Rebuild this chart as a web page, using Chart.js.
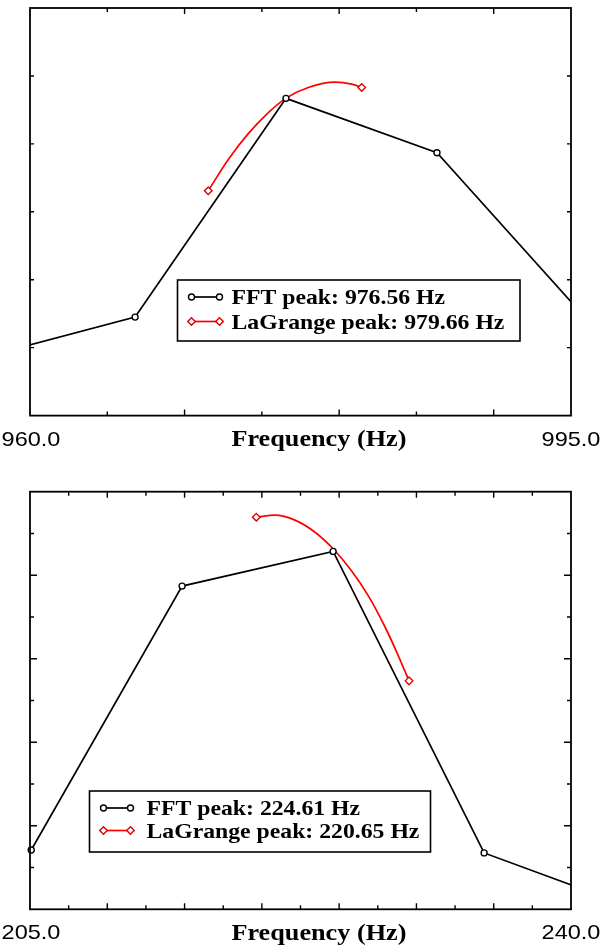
<!DOCTYPE html>
<html>
<head>
<meta charset="utf-8">
<script src="https://cdn.jsdelivr.net/npm/chart.js@4/dist/chart.umd.min.js"></script>
<style>
  body { margin: 0; background: #fff; }
  .box { position: absolute; left: 0; width: 608px; }
</style>
</head>
<body>
<div class="box" style="top:0;height:472px"><canvas id="peakHigh" width="608" height="472"></canvas></div>
<div class="box" style="top:472px;height:473px"><canvas id="peakLow" width="608" height="473"></canvas></div>
<script>
// ---- top plot: peak near 977 Hz
const fftFreqHigh = [957.03, 966.80, 976.56, 986.33, 996.09];
const fftAmpHigh = [0.86, 1.45, 4.67, 3.87, 1.40];
const lagFreqHigh = [971.53, 972.83, 974.12, 975.42, 976.54, 978.00, 979.73, 980.81, 981.46];
const lagAmpHigh = [3.31, 3.77, 4.15, 4.46, 4.67, 4.83, 4.91, 4.88, 4.83];
const xTicksHigh = [965, 970, 975, 980, 985, 990];
const xMajorHigh = [970, 980, 990];
const yTicksHigh = [1, 2, 3, 4, 5];
const xLabelsHigh = ['960.0', '995.0'];
const legendHigh = ['FFT peak: 976.56 Hz', 'LaGrange peak: 979.66 Hz'];

// ---- bottom plot: peak near 222 Hz
const fftFreqLow = [205.08, 214.84, 224.61, 234.38, 244.14];
const fftAmpLow = [1.42, 7.74, 8.57, 1.35, 0.02];
const lagFreqLow = [219.64, 220.85, 222.14, 223.44, 224.67, 225.81, 226.88, 227.97, 228.83, 229.52];
const lagAmpLow = [9.39, 9.44, 9.32, 9.03, 8.61, 8.10, 7.51, 6.76, 6.07, 5.47];
const xTicksLow = [207.5, 210, 212.5, 215, 217.5, 220, 222.5, 225, 227.5, 230, 232.5, 235, 237.5];
const xMajorLow = [210, 215, 220, 225, 230, 235];
const yTicksLow = [1, 2, 3, 4, 5, 6, 7, 8, 9];
const yMajorLow = [2, 4, 6, 8];
const xLabelsLow = ['205.0', '240.0'];
const legendLow = ['FFT peak: 224.61 Hz', 'LaGrange peak: 220.65 Hz'];

// the source picture is stretched sideways, so text gets a horizontal scale
function wideText(ctx, text, x, y, align, sx) {
  ctx.save();
  ctx.translate(x, y);
  ctx.scale(sx, 1);
  ctx.textAlign = align;
  ctx.fillText(text, 0, 0);
  ctx.restore();
}

function marker(ctx, kind, x, y) {
  ctx.beginPath();
  if (kind === 'circle') {
    ctx.arc(x, y, 3, 0, Math.PI * 2);
  } else {
    ctx.moveTo(x, y - 3.8); ctx.lineTo(x + 3.8, y); ctx.lineTo(x, y + 3.8); ctx.lineTo(x - 3.8, y); ctx.closePath();
  }
  ctx.fillStyle = '#fff';
  ctx.fill();
  ctx.stroke();
}

const framePlugin = {
  id: 'frame',
  afterDatasetsDraw(chart, args, o) {
    const ctx = chart.ctx, a = chart.chartArea;
    const xs = chart.scales.x, ys = chart.scales.y;
    ctx.save();
    ctx.strokeStyle = '#000';
    ctx.lineWidth = 1.8;
    ctx.strokeRect(a.left, a.top, a.right - a.left, a.bottom - a.top);
    ctx.lineWidth = 1.4;
    ctx.beginPath();
    o.xTicks.forEach(v => {
      const px = xs.getPixelForValue(v);
      const len = o.xMajor.includes(v) ? 6 : 4;
      ctx.moveTo(px, a.bottom); ctx.lineTo(px, a.bottom - len);
      ctx.moveTo(px, a.top); ctx.lineTo(px, a.top + len);
    });
    o.yTicks.forEach(v => {
      const py = ys.getPixelForValue(v);
      const len = o.yMajor.includes(v) ? 7 : 4;
      ctx.moveTo(a.left, py); ctx.lineTo(a.left + len, py);
      ctx.moveTo(a.right, py); ctx.lineTo(a.right - len, py);
    });
    ctx.stroke();

    ctx.fillStyle = '#000';
    ctx.textBaseline = 'alphabetic';
    ctx.font = '21px "Liberation Sans", Arial, sans-serif';
    wideText(ctx, o.xLabels[0], xs.getPixelForValue(xs.min) + 1, a.bottom + 30, 'center', 1.12);
    wideText(ctx, o.xLabels[1], xs.getPixelForValue(xs.max), a.bottom + 30, 'center', 1.12);
    ctx.font = 'bold 23px "Liberation Serif", "Times New Roman", serif';
    wideText(ctx, 'Frequency (Hz)', a.left + (a.right - a.left) * 0.534, a.bottom + 30.5, 'center', 1.14);

    // legend box
    const L = o.legend;
    ctx.fillStyle = '#fff';
    ctx.fillRect(L.x, L.y, L.w, L.h);
    ctx.lineWidth = 1.6;
    ctx.strokeRect(L.x, L.y, L.w, L.h);
    ctx.font = 'bold 21px "Liberation Serif", "Times New Roman", serif';
    chart.data.datasets.forEach((ds, i) => {
      const cy = L.y + L.row0 + i * L.gap;
      ctx.strokeStyle = ds.borderColor;
      ctx.lineWidth = 1.7;
      ctx.beginPath();
      ctx.moveTo(L.x + L.sym0, cy); ctx.lineTo(L.x + L.sym1, cy);
      ctx.stroke();
      ctx.lineWidth = 1.4;
      ctx.strokeStyle = i === 0 ? '#000' : '#e00000';
      marker(ctx, i === 0 ? 'circle' : 'diamond', L.x + L.sym0, cy);
      marker(ctx, i === 0 ? 'circle' : 'diamond', L.x + L.sym1, cy);
      ctx.fillStyle = '#000';
      wideText(ctx, ds.label, L.x + L.text, cy + 7, 'left', 1.13);
    });
    ctx.restore();
  }
};

function pairs(xv, yv) {
  return xv.map((v, i) => ({ x: v, y: yv[i] }));
}

function endsOnly(n, r) {
  return Array.from({ length: n }, (_, i) => (i === 0 || i === n - 1) ? r : 0);
}

function makeChart(id, fftF, fftA, lagF, lagA, labels, xMin, xMax, yMax, fftClip, pad, frame) {
  return new Chart(document.getElementById(id), {
    type: 'line',
    data: {
      datasets: [{
        label: labels[0],
        data: pairs(fftF, fftA),
        borderColor: '#000000',
        borderWidth: 1.7,
        pointStyle: 'circle',
        pointRadius: 3,
        pointBorderWidth: 1.4,
        pointBackgroundColor: '#ffffff',
        pointBorderColor: '#000000',
        tension: 0,
        clip: fftClip
      }, {
        label: labels[1],
        data: pairs(lagF, lagA),
        borderColor: '#ff0000',
        borderWidth: 1.7,
        pointStyle: 'rectRot',
        pointRadius: endsOnly(lagF.length, 3.8),
        pointBorderWidth: 1.4,
        pointBackgroundColor: '#ffffff',
        pointBorderColor: '#e00000',
        cubicInterpolationMode: 'monotone',
        clip: 5
      }]
    },
    options: {
      responsive: false,
      animation: false,
      layout: { padding: pad },
      scales: {
        x: { type: 'linear', min: xMin, max: xMax, display: false },
        y: { type: 'linear', min: 0, max: yMax, display: false }
      },
      plugins: {
        legend: { display: false },
        tooltip: { enabled: false },
        frame: frame
      }
    },
    plugins: [framePlugin]
  });
}

makeChart('peakHigh', fftFreqHigh, fftAmpHigh, lagFreqHigh, lagAmpHigh, legendHigh,
  960, 995, 6,
  { left: 0, right: 0, top: 5, bottom: 5 },
  { left: 30, right: 37, top: 8, bottom: 56.4 },
  {
    xTicks: xTicksHigh, xMajor: xMajorHigh, yTicks: yTicksHigh, yMajor: [],
    xLabels: xLabelsHigh,
    legend: { x: 177.5, y: 280, w: 342.5, h: 61, row0: 17, gap: 24.5, sym0: 14, sym1: 42, text: 54 }
  });

makeChart('peakLow', fftFreqLow, fftAmpLow, lagFreqLow, lagAmpLow, legendLow,
  205, 240, 10,
  { left: 5, right: 0, top: 5, bottom: 0 },
  { left: 30, right: 37, top: 19.7, bottom: 35.7 },
  {
    xTicks: xTicksLow, xMajor: xMajorLow, yTicks: yTicksLow, yMajor: yMajorLow,
    xLabels: xLabelsLow,
    legend: { x: 89.5, y: 319, w: 341, h: 61, row0: 17, gap: 22.5, sym0: 14, sym1: 41, text: 57 }
  });
</script>
</body>
</html>
